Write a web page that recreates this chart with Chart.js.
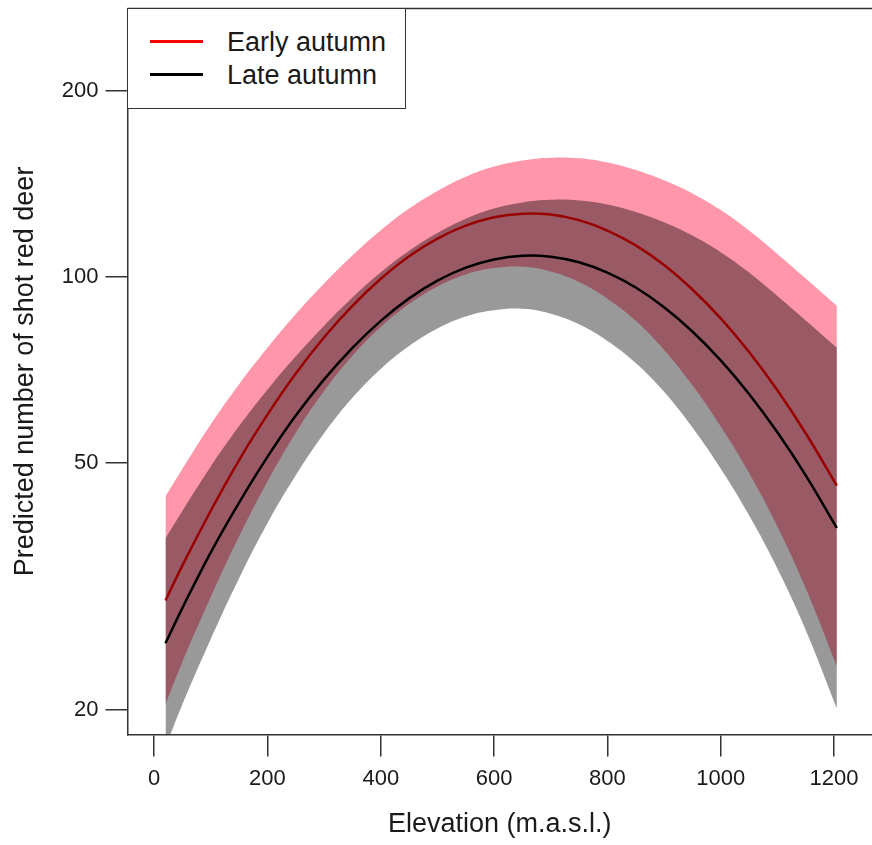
<!DOCTYPE html>
<html>
<head>
<meta charset="utf-8">
<script src="https://cdn.jsdelivr.net/npm/chart.js@4.4.1/dist/chart.umd.min.js"></script>
<style>
  body { margin: 0; background: #fff; }
  #wrap { position: relative; width: 872px; height: 845px; }
  #legend {
    position: absolute; left: 127px; top: 8px; width: 279px; height: 101px;
    box-sizing: border-box; border: 1.5px solid #333; background: #fff;
    font-family: 'Liberation Sans', Arial, sans-serif; font-size: 27px; color: #1a1a1a;
  }
  .swatch { position: absolute; left: 22px; width: 53px; height: 3px; }
  .label { position: absolute; left: 99px; height: 32px; line-height: 32px; white-space: nowrap; }
</style>
</head>
<body>
<div id="wrap">
  <canvas id="chart" width="872" height="845"></canvas>
  <div id="legend">
    <div class="swatch" style="top:31px; background:#ff0000;"></div>
    <div class="label" style="top:17px;">Early autumn</div>
    <div class="swatch" style="top:64px; background:#000;"></div>
    <div class="label" style="top:50px;">Late autumn</div>
  </div>
</div>
<script>
// elevation (m.a.s.l.) and predicted counts with CI
const elevation = [20, 50, 100, 150, 200, 250, 300, 350, 400, 450, 500, 550, 600,
                   650, 700, 750, 800, 850, 900, 950, 1000, 1050, 1100, 1150, 1205];
const earlyFit   = [30.0, 34.2, 41.9, 50.6, 59.9, 69.8, 79.9, 89.8, 99.3, 108.0, 115.3, 121.0, 124.8,
                    126.5, 126.1, 123.5, 118.8, 112.4, 104.5, 95.4, 85.7, 75.6, 65.6, 55.9, 46.0];
const earlyUpper = [44.2, 49.0, 57.8, 67.1, 76.8, 87.1, 97.6, 108.3, 118.9, 128.9, 137.6, 145.1, 150.7,
                    154.2, 155.8, 155.4, 153.0, 148.8, 143.2, 136.4, 128.2, 118.8, 108.9, 99.4, 89.8];
const earlyLower = [20.4, 23.9, 30.4, 38.1, 46.7, 56.0, 65.4, 74.6, 83.0, 90.4, 96.5, 100.9, 103.3,
                    103.8, 102.0, 98.1, 92.2, 84.9, 76.2, 66.8, 57.3, 48.2, 39.5, 31.4, 23.5];
const lateFit    = [25.6, 29.2, 35.9, 43.2, 51.2, 59.7, 68.3, 76.8, 84.9, 92.3, 98.6, 103.5, 106.7,
                    108.2, 107.8, 105.6, 101.6, 96.1, 89.3, 81.6, 73.3, 64.7, 56.1, 47.8, 39.3];
const lateUpper  = [37.8, 41.9, 49.4, 57.4, 65.7, 74.4, 83.4, 92.6, 101.7, 110.2, 117.7, 124.1, 128.9,
                    131.9, 133.2, 132.9, 130.9, 127.3, 122.5, 116.6, 109.6, 101.6, 93.1, 85.0, 76.8];
const lateLower  = [17.4, 20.4, 26.0, 32.6, 40.0, 47.8, 55.9, 63.8, 71.0, 77.3, 82.5, 86.3, 88.3,
                    88.8, 87.2, 83.8, 78.8, 72.6, 65.2, 57.1, 49.0, 41.2, 33.8, 26.9, 20.1];
const xTicks = [0, 200, 400, 600, 800, 1000, 1200];
const yTicks = [20, 50, 100, 200];

const family = "'Liberation Sans', Arial, sans-serif";
const ink = '#1a1a1a';
const axisCol = '#333';

const pts = ys => elevation.map((x, i) => ({ x: x, y: ys[i] }));
const band = { pointRadius: 0, borderWidth: 0, tension: 0.4 };
const line = { pointRadius: 0, borderWidth: 2.5, tension: 0.4, fill: false };

// top edge of the plot box
const frame = {
  id: 'frame',
  afterDraw(chart) {
    const { ctx, chartArea: a } = chart;
    ctx.save();
    ctx.strokeStyle = axisCol;
    ctx.lineWidth = 1.5;
    ctx.beginPath();
    ctx.moveTo(a.left, a.top);
    ctx.lineTo(a.right, a.top);
    ctx.stroke();
    ctx.restore();
  }
};

new Chart(document.getElementById('chart'), {
  type: 'line',
  data: {
    datasets: [
      { label: 'early upper', data: pts(earlyUpper), ...band, fill: false, order: 6 },
      { label: 'early lower', data: pts(earlyLower), ...band, fill: '-1', backgroundColor: 'rgb(255,150,170)', order: 5 },
      { label: 'Early autumn', data: pts(earlyFit), ...line, borderColor: '#ff0000', order: 4 },
      { label: 'late upper', data: pts(lateUpper), ...band, fill: false, order: 3 },
      { label: 'late lower', data: pts(lateLower), ...band, fill: '-1', backgroundColor: 'rgba(0,0,0,0.4)', order: 2 },
      { label: 'Late autumn', data: pts(lateFit), ...line, borderColor: '#000000', order: 1 }
    ]
  },
  options: {
    responsive: false,
    devicePixelRatio: 1,
    animation: false,
    layout: { padding: { top: 8.5, left: 0, right: 0, bottom: 0 } },
    plugins: { legend: { display: false }, tooltip: { enabled: false } },
    scales: {
      x: {
        type: 'linear',
        min: -47,
        max: 1267,
        afterBuildTicks: s => { s.ticks = xTicks.map(v => ({ value: v })); },
        afterFit: s => { s.height = 110.5; s.paddingLeft = 0; s.paddingRight = 0; },
        grid: { drawOnChartArea: false, drawTicks: true, tickLength: 22, color: axisCol, lineWidth: 1.5 },
        border: { display: true, color: axisCol, width: 1.5 },
        ticks: { autoSkip: false, maxRotation: 0, padding: 9, color: ink, font: { size: 22, family: family }, callback: v => String(v) },
        title: { display: true, text: 'Elevation (m.a.s.l.)', color: ink, font: { size: 27, family: family }, padding: { top: 0, bottom: 4 } }
      },
      y: {
        type: 'logarithmic',
        min: 18.23,
        max: 271.3,
        afterBuildTicks: s => { s.ticks = yTicks.map(v => ({ value: v })); },
        afterFit: s => { s.width = 127.5; s.paddingTop = 0; s.paddingBottom = 0; },
        grid: { drawOnChartArea: false, drawTicks: true, tickLength: 22, color: axisCol, lineWidth: 1.5 },
        border: { display: true, color: axisCol, width: 1.5 },
        ticks: { autoSkip: false, padding: 7, color: ink, font: { size: 22, family: family }, callback: v => String(v) },
        title: { display: true, text: 'Predicted number of shot red deer', color: ink, font: { size: 27, family: family }, padding: { top: 9, bottom: 0 } }
      }
    }
  },
  plugins: [frame]
});
</script>
</body>
</html>
